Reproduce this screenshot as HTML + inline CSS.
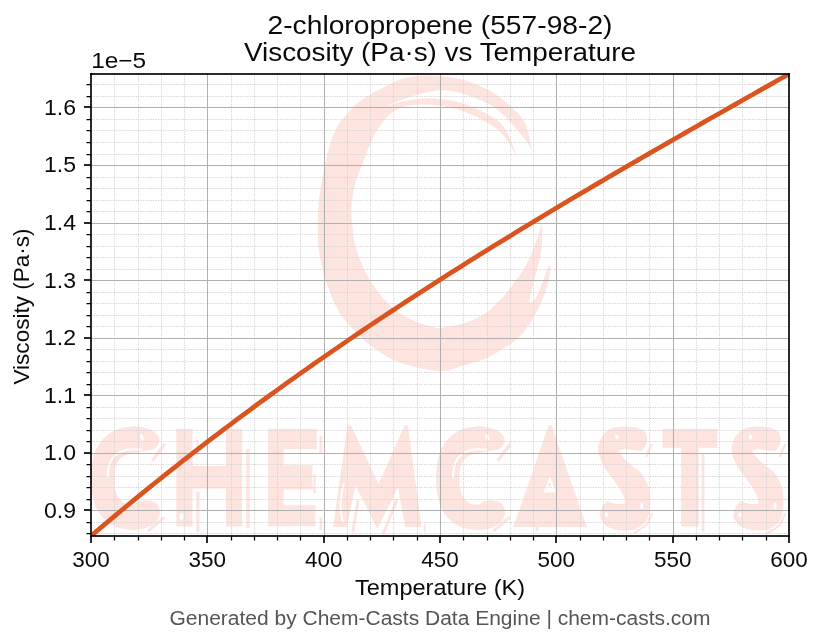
<!DOCTYPE html><html><head><meta charset="utf-8"><style>html,body{margin:0;padding:0;background:#fff;width:823px;height:644px;overflow:hidden}svg{display:block;will-change:transform}</style></head><body><svg width="823" height="644" viewBox="0 0 823 644"><rect width="823" height="644" fill="#ffffff"/><filter id="bl" x="-5%" y="-5%" width="110%" height="110%"><feGaussianBlur stdDeviation="0.6"/></filter><g id="wm" fill="#fde4df" filter="url(#bl)"><path d="M532 150C530.8 145.5 528.7 130.3 525.0 123.0C521.3 115.7 515.8 111.3 510.0 106.0C504.2 100.7 498.3 95.5 490.0 91.0C481.7 86.5 470.0 81.6 460.0 79.0C450.0 76.4 439.2 75.6 430.0 75.4C420.8 75.2 412.0 76.4 405.0 78.0C398.0 79.6 394.2 82.0 388.0 85.0C381.8 88.0 373.8 92.2 368.0 96.0C362.2 99.8 358.5 101.7 353.0 107.5C347.5 113.3 339.7 121.4 335.0 131.0C330.3 140.6 327.8 152.7 325.0 165.0C322.2 177.3 319.7 192.5 318.5 205.0C317.3 217.5 317.6 230.5 318.0 240.0C318.4 249.5 319.7 255.3 321.0 262.0C322.3 268.7 323.7 273.7 325.7 280.0C327.7 286.3 329.8 293.3 333.0 300.0C336.2 306.7 338.8 312.5 345.0 320.0C351.2 327.5 360.8 337.9 370.0 345.0C379.2 352.1 388.3 358.3 400.0 362.6C411.7 366.9 429.5 370.5 440.0 371.0C450.5 371.5 455.3 367.5 463.0 365.4C470.7 363.3 478.2 361.9 486.0 358.4C493.8 354.9 503.5 348.9 509.8 344.5C516.1 340.1 519.6 336.8 523.8 331.9C528.0 327.0 531.6 321.3 535.0 315.1C538.4 308.9 542.0 301.2 544.4 294.8C546.8 288.4 548.5 281.7 549.5 276.6C550.5 271.6 550.3 266.5 550.5 264.5C550.0 265.2 548.8 265.5 547.4 268.5C546.0 271.5 544.4 277.6 542.4 282.7C540.4 287.8 537.5 295.2 535.3 298.8C533.1 302.4 530.0 303.1 529.0 304.0C529.5 301.1 530.9 292.6 532.3 286.7C533.7 280.8 535.8 274.6 537.3 268.5C538.8 262.4 540.5 256.8 541.4 250.4C542.2 244.0 542.4 234.8 542.4 230.2C542.4 225.6 541.6 224.3 541.4 223.1C540.9 224.9 540.2 228.6 538.4 234.2C536.5 239.8 533.3 249.7 530.3 256.4C527.3 263.1 523.9 268.9 520.2 274.6C516.5 280.3 510.9 287.0 508.0 290.7C505.1 294.4 506.5 293.3 502.8 297.0C499.1 300.7 492.6 308.6 486.0 313.0C479.4 317.4 470.7 321.1 463.0 323.5C455.3 325.9 445.0 327.1 440.0 327.7C435.0 328.3 436.9 327.9 433.2 327.0C429.5 326.1 422.8 324.4 417.6 322.3C412.4 320.2 407.3 317.9 402.1 314.5C396.9 311.1 391.2 306.8 386.6 302.1C382.0 297.5 377.8 291.8 374.2 286.6C370.6 281.4 367.4 276.2 364.8 271.0C362.2 265.8 360.4 260.7 358.6 255.5C356.8 250.3 355.1 245.6 354.0 240.0C352.9 234.4 352.4 227.8 352.0 222.0C351.6 216.2 351.2 211.2 351.7 205.0C352.2 198.8 353.3 191.7 355.0 185.0C356.7 178.3 358.4 174.0 362.0 165.0C365.6 156.0 371.0 140.2 376.7 131.0C382.4 121.8 387.9 114.4 396.0 110.0C404.1 105.6 414.3 104.5 425.0 104.5C435.7 104.5 449.2 106.9 460.0 110.2C470.8 113.5 482.5 119.8 490.0 124.3C497.5 128.8 500.5 132.0 505.0 137.4C509.5 142.8 515.0 153.7 517.0 157.0C515.0 152.3 509.5 135.6 505.0 128.7C500.5 121.8 497.5 120.0 490.0 115.7C482.5 111.4 470.0 105.5 460.0 102.6C450.0 99.7 439.2 98.6 430.0 98.3C420.8 98.0 412.2 99.7 405.0 101.0C397.8 102.3 389.6 105.2 386.5 106.0C392.1 104.0 409.4 96.5 420.0 94.0C430.6 91.5 438.3 89.0 450.0 90.8C461.7 92.6 480.0 99.6 490.0 104.8C500.0 110.0 504.2 116.2 510.0 122.0C515.8 127.8 521.3 134.9 525.0 139.6C528.7 144.3 530.8 148.3 532.0 150.0Z"/><path d="M491.5 450.6C492.8 450.3 496.9 450.3 499.0 449.0C501.1 447.7 503.2 445.2 504.0 443.0C504.8 440.8 504.7 438.1 503.5 436.0C502.3 433.9 499.8 432.0 497.0 430.5C494.2 429.0 490.4 427.7 487.0 427.0C483.6 426.3 480.8 426.0 476.6 426.4C472.4 426.8 466.6 427.6 462.0 429.5C457.4 431.4 452.7 434.2 449.0 438.0C445.3 441.8 442.1 446.7 440.0 452.0C437.9 457.3 437.1 464.0 436.5 470.0C435.9 476.0 435.9 482.2 436.5 488.0C437.1 493.8 438.1 500.0 440.0 505.0C441.9 510.0 444.5 514.3 448.0 518.0C451.5 521.7 456.2 525.0 461.0 527.0C465.8 529.0 471.6 529.6 476.6 529.8C481.6 530.0 486.9 529.3 491.0 528.0C495.1 526.7 498.7 524.5 501.0 522.0C503.3 519.5 504.8 516.0 505.0 513.0C505.2 510.0 503.8 506.1 502.0 504.0C500.2 501.9 496.8 501.0 494.0 500.5C491.2 500.0 487.5 500.3 485.0 501.0C482.5 501.7 480.0 504.0 479.0 504.6C477.5 504.4 472.6 504.8 470.0 503.5C467.4 502.2 465.2 499.4 463.5 497.0C461.8 494.6 460.7 491.8 460.0 489.0C459.3 486.2 459.5 483.3 459.5 480.0C459.5 476.7 459.2 472.3 460.0 469.0C460.8 465.7 462.2 462.3 464.0 460.0C465.8 457.7 468.3 456.2 471.0 455.0C473.7 453.8 476.6 453.7 480.0 453.0C483.4 452.3 489.6 451.0 491.5 450.6Z"/><path transform="translate(-345 0)" d="M491.5 450.6C492.8 450.3 496.9 450.3 499.0 449.0C501.1 447.7 503.2 445.2 504.0 443.0C504.8 440.8 504.7 438.1 503.5 436.0C502.3 433.9 499.8 432.0 497.0 430.5C494.2 429.0 490.4 427.7 487.0 427.0C483.6 426.3 480.8 426.0 476.6 426.4C472.4 426.8 466.6 427.6 462.0 429.5C457.4 431.4 452.7 434.2 449.0 438.0C445.3 441.8 442.1 446.7 440.0 452.0C437.9 457.3 437.1 464.0 436.5 470.0C435.9 476.0 435.9 482.2 436.5 488.0C437.1 493.8 438.1 500.0 440.0 505.0C441.9 510.0 444.5 514.3 448.0 518.0C451.5 521.7 456.2 525.0 461.0 527.0C465.8 529.0 471.6 529.6 476.6 529.8C481.6 530.0 486.9 529.3 491.0 528.0C495.1 526.7 498.7 524.5 501.0 522.0C503.3 519.5 504.8 516.0 505.0 513.0C505.2 510.0 503.8 506.1 502.0 504.0C500.2 501.9 496.8 501.0 494.0 500.5C491.2 500.0 487.5 500.3 485.0 501.0C482.5 501.7 480.0 504.0 479.0 504.6C477.5 504.4 472.6 504.8 470.0 503.5C467.4 502.2 465.2 499.4 463.5 497.0C461.8 494.6 460.7 491.8 460.0 489.0C459.3 486.2 459.5 483.3 459.5 480.0C459.5 476.7 459.2 472.3 460.0 469.0C460.8 465.7 462.2 462.3 464.0 460.0C465.8 457.7 468.3 456.2 471.0 455.0C473.7 453.8 476.6 453.7 480.0 453.0C483.4 452.3 489.6 451.0 491.5 450.6Z"/><path d="M176.3 428.7L192.5 428.7L192.5 466L225.9 466L225.9 428.7L242.1 428.7L242.1 526.4L225.9 526.4L225.9 488.5L192.5 488.5L192.5 526.4L176.3 526.4Z"/><path d="M268.1 428.7L316.8 428.7L316.8 449L283.7 449L283.7 465.2L312.4 465.2L312.4 489.6L283.7 489.6L283.7 505.2L315.5 505.2L315.5 526.3L268.1 526.3Z"/><path d="M333 527L347.5 425.5L351 425.5L378.6 484L404.5 425.5L408 425.5L421.5 527L405 527L398 487L377.4 529L355.5 485L347 527Z"/><path fill-rule="evenodd" d="M513.4 527L548.5 425.5L551.5 425.5L587 527ZM550 476.7L543.2 492.5L556.2 492.5Z"/><path d="M641.7 450.8C642.4 449.8 645.1 447.0 646.0 445.0C646.9 443.0 647.4 441.1 647.2 438.9C647.0 436.7 646.5 433.8 645.0 432.0C643.5 430.2 640.5 428.9 638.0 428.0C635.5 427.1 632.7 427.1 630.0 426.8C627.3 426.6 624.6 426.3 621.8 426.5C619.0 426.7 615.5 427.3 613.0 428.0C610.5 428.7 608.9 429.2 606.9 430.9C604.9 432.6 602.5 434.9 601.0 438.0C599.5 441.1 598.0 446.1 598.0 449.8C598.0 453.6 599.6 457.1 601.0 460.5C602.4 463.9 604.2 466.9 606.5 470.5C608.8 474.1 612.2 478.0 615.0 482.0C617.8 486.0 621.3 490.9 623.0 494.5C624.7 498.1 624.7 502.0 625.0 503.5C623.7 503.6 619.9 504.4 617.0 504.0C614.1 503.6 609.1 501.7 607.5 501.2C606.6 502.2 603.2 504.4 602.0 507.0C600.8 509.6 599.8 514.2 600.0 516.7C600.2 519.2 602.0 520.5 603.0 522.0C604.0 523.5 604.3 524.5 606.0 525.7C607.7 526.9 610.4 528.2 613.0 529.0C615.6 529.8 619.0 530.4 621.8 530.6C624.6 530.8 627.5 530.3 630.0 530.0C632.5 529.7 634.1 530.1 636.7 528.7C639.3 527.3 643.6 524.5 645.7 521.7C647.8 518.9 648.5 515.9 649.2 511.8C649.9 507.7 650.0 501.4 649.7 496.9C649.5 492.4 649.2 489.0 647.7 485.0C646.2 481.0 643.5 476.1 641.0 473.0C638.5 469.9 635.9 469.0 633.0 466.5C630.1 464.0 625.9 460.7 623.5 458.0C621.1 455.3 619.3 451.8 618.5 450.5C619.7 450.2 623.2 449.1 625.5 449.0C627.8 448.9 629.8 449.9 632.5 450.2C635.2 450.5 640.2 450.7 641.7 450.8Z"/><path transform="translate(133.5 0)" d="M641.7 450.8C642.4 449.8 645.1 447.0 646.0 445.0C646.9 443.0 647.4 441.1 647.2 438.9C647.0 436.7 646.5 433.8 645.0 432.0C643.5 430.2 640.5 428.9 638.0 428.0C635.5 427.1 632.7 427.1 630.0 426.8C627.3 426.6 624.6 426.3 621.8 426.5C619.0 426.7 615.5 427.3 613.0 428.0C610.5 428.7 608.9 429.2 606.9 430.9C604.9 432.6 602.5 434.9 601.0 438.0C599.5 441.1 598.0 446.1 598.0 449.8C598.0 453.6 599.6 457.1 601.0 460.5C602.4 463.9 604.2 466.9 606.5 470.5C608.8 474.1 612.2 478.0 615.0 482.0C617.8 486.0 621.3 490.9 623.0 494.5C624.7 498.1 624.7 502.0 625.0 503.5C623.7 503.6 619.9 504.4 617.0 504.0C614.1 503.6 609.1 501.7 607.5 501.2C606.6 502.2 603.2 504.4 602.0 507.0C600.8 509.6 599.8 514.2 600.0 516.7C600.2 519.2 602.0 520.5 603.0 522.0C604.0 523.5 604.3 524.5 606.0 525.7C607.7 526.9 610.4 528.2 613.0 529.0C615.6 529.8 619.0 530.4 621.8 530.6C624.6 530.8 627.5 530.3 630.0 530.0C632.5 529.7 634.1 530.1 636.7 528.7C639.3 527.3 643.6 524.5 645.7 521.7C647.8 518.9 648.5 515.9 649.2 511.8C649.9 507.7 650.0 501.4 649.7 496.9C649.5 492.4 649.2 489.0 647.7 485.0C646.2 481.0 643.5 476.1 641.0 473.0C638.5 469.9 635.9 469.0 633.0 466.5C630.1 464.0 625.9 460.7 623.5 458.0C621.1 455.3 619.3 451.8 618.5 450.5C619.7 450.2 623.2 449.1 625.5 449.0C627.8 448.9 629.8 449.9 632.5 450.2C635.2 450.5 640.2 450.7 641.7 450.8Z"/><path d="M662.5 428.7L717.4 428.7L717.4 447.8L698.8 447.8L698.8 526.4L681.1 526.4L681.1 447.8L662.5 447.8Z"/><path d="M487 449.6C484.5 449.6 476.3 448.9 472.0 449.8C467.7 450.7 463.8 452.7 461.0 455.0C458.2 457.3 456.3 459.8 455.0 463.5C453.7 467.2 453.3 474.8 453.0 477.0" fill="none" stroke="#fff" stroke-width="2.0" stroke-linecap="round"/><ellipse cx="487.4" cy="437.4" rx="1.8" ry="3.3" transform="rotate(-15 487.4 437.4)" fill="#fff"/><path d="M498.6 459.8L509.8 444.8" fill="none" stroke="#fde4df" stroke-width="3.4" stroke-linecap="round"/><path d="M494.5 530.4L508.8 518.2" fill="none" stroke="#fde4df" stroke-width="3.0" stroke-linecap="round"/><g transform="translate(-345.5 0)"><path d="M487 449.6C484.5 449.6 476.3 448.9 472.0 449.8C467.7 450.7 463.8 452.7 461.0 455.0C458.2 457.3 456.3 459.8 455.0 463.5C453.7 467.2 453.3 474.8 453.0 477.0" fill="none" stroke="#fff" stroke-width="2.0" stroke-linecap="round"/><ellipse cx="487.4" cy="437.4" rx="1.8" ry="3.3" transform="rotate(-15 487.4 437.4)" fill="#fff"/><path d="M498.6 459.8L509.8 444.8" fill="none" stroke="#fde4df" stroke-width="3.4" stroke-linecap="round"/><path d="M494.5 530.4L508.8 518.2" fill="none" stroke="#fde4df" stroke-width="3.0" stroke-linecap="round"/></g><rect x="196.3" y="491.6" width="3.2" height="40" fill="#fde4df"/><rect x="246.3" y="448.7" width="3.4" height="79.3" fill="#fde4df"/><rect x="196.5" y="440" width="2.2" height="15" fill="#fde4df"/><ellipse cx="181.5" cy="516.5" rx="2" ry="3.5" fill="#fff"/><rect x="319.5" y="435.7" width="2.8" height="17.7" fill="#fde4df"/><rect x="313.3" y="474" width="2.4" height="19" fill="#fde4df"/><rect x="319.5" y="517" width="2.6" height="13" fill="#fde4df"/><path d="M358 501.6L353 530.8" fill="none" stroke="#fde4df" stroke-width="3.0" stroke-linecap="round"/><path d="M396.8 500.4L383.5 533.2" fill="none" stroke="#fde4df" stroke-width="3.0" stroke-linecap="round"/><path d="M424.8 524.7L424.8 530.8" fill="none" stroke="#fde4df" stroke-width="2.0" stroke-linecap="round"/><path d="M343.5 484C343.0 487.3 340.7 497.8 340.5 504.0C340.3 510.2 342.2 518.2 342.5 521.0" fill="none" stroke="#fff" stroke-width="2.0" stroke-linecap="round"/><path d="M540.4 518.6L536.7 529.8" fill="none" stroke="#fde4df" stroke-width="3.0" stroke-linecap="round"/><ellipse cx="549.5" cy="484.5" rx="1.6" ry="1.6" fill="#fde4df"/><rect x="701.6" y="453.4" width="2.8" height="78.3" fill="#fde4df"/><ellipse cx="617" cy="437" rx="1.8" ry="2.4" fill="#fff"/><ellipse cx="641.7" cy="505.8" rx="1.5" ry="3.2" fill="#fff"/><ellipse cx="606.4" cy="514.7" rx="1.6" ry="2.4" fill="#fff"/><path d="M646.5 456L651.5 445" fill="none" stroke="#fde4df" stroke-width="2.6" stroke-linecap="round"/><path d="M651.6 513.8C650.7 515.7 648.8 521.9 646.0 525.0C643.2 528.1 636.6 531.3 634.7 532.6" fill="none" stroke="#fde4df" stroke-width="2.2" stroke-linecap="round"/><g transform="translate(133.5 0)"><ellipse cx="617" cy="437" rx="1.8" ry="2.4" fill="#fff"/><ellipse cx="641.7" cy="505.8" rx="1.5" ry="3.2" fill="#fff"/><ellipse cx="606.4" cy="514.7" rx="1.6" ry="2.4" fill="#fff"/><path d="M646.5 456L651.5 445" fill="none" stroke="#fde4df" stroke-width="2.6" stroke-linecap="round"/><path d="M651.6 513.8C650.7 515.7 648.8 521.9 646.0 525.0C643.2 528.1 636.6 531.3 634.7 532.6" fill="none" stroke="#fde4df" stroke-width="2.2" stroke-linecap="round"/></g></g><path d="M114.5 74V536M138.5 74V536M161.5 74V536M184.5 74V536M231.5 74V536M254.5 74V536M277.5 74V536M300.5 74V536M347.5 74V536M370.5 74V536M393.5 74V536M417.5 74V536M463.5 74V536M487.5 74V536M510.5 74V536M533.5 74V536M580.5 74V536M603.5 74V536M626.5 74V536M649.5 74V536M696.5 74V536M719.5 74V536M742.5 74V536M766.5 74V536M91 533.5H789M91 522.5H789M91 499.5H789M91 487.5H789M91 476.5H789M91 464.5H789M91 441.5H789M91 430.5H789M91 418.5H789M91 407.5H789M91 384.5H789M91 372.5H789M91 361.5H789M91 349.5H789M91 326.5H789M91 315.5H789M91 303.5H789M91 292.5H789M91 269.5H789M91 257.5H789M91 246.5H789M91 234.5H789M91 211.5H789M91 200.5H789M91 188.5H789M91 177.5H789M91 154.5H789M91 142.5H789M91 130.5H789M91 119.5H789M91 96.5H789M91 84.5H789" stroke="#d2d2d2" stroke-width="0.94" stroke-dasharray="1.3 1.0 1.3 1.37" fill="none"/><path d="M207.5 74V536M324.5 74V536M440.5 74V536M556.5 74V536M673.5 74V536M91 510.5H789M91 453.5H789M91 395.5H789M91 338.5H789M91 280.5H789M91 223.5H789M91 165.5H789M91 107.5H789" stroke="#b0b0b0" stroke-width="1.04" fill="none"/><clipPath id="ax"><rect x="91" y="74" width="698" height="462"/></clipPath><polyline clip-path="url(#ax)" points="91.00,536.00 96.82,531.05 102.63,526.12 108.45,521.23 114.27,516.36 120.08,511.51 125.90,506.70 131.72,501.91 137.53,497.14 143.35,492.41 149.17,487.69 154.98,483.01 160.80,478.34 166.62,473.71 172.43,469.10 178.25,464.51 184.07,459.94 189.88,455.41 195.70,450.89 201.52,446.40 207.33,441.93 213.15,437.48 218.97,433.06 224.78,428.66 230.60,424.29 236.42,419.93 242.23,415.60 248.05,411.29 253.87,407.00 259.68,402.73 265.50,398.48 271.32,394.25 277.13,390.05 282.95,385.86 288.77,381.70 294.58,377.55 300.40,373.43 306.22,369.32 312.03,365.23 317.85,361.17 323.67,357.12 329.48,353.09 335.30,349.08 341.12,345.08 346.93,341.11 352.75,337.15 358.57,333.21 364.38,329.28 370.20,325.38 376.02,321.49 381.83,317.61 387.65,313.76 393.47,309.92 399.28,306.09 405.10,302.28 410.92,298.49 416.73,294.71 422.55,290.95 428.37,287.20 434.18,283.46 440.00,279.74 445.82,276.04 451.63,272.34 457.45,268.66 463.27,265.00 469.08,261.35 474.90,257.71 480.72,254.08 486.53,250.46 492.35,246.86 498.17,243.27 503.98,239.69 509.80,236.13 515.62,232.57 521.43,229.03 527.25,225.49 533.07,221.97 538.88,218.46 544.70,214.95 550.52,211.46 556.33,207.98 562.15,204.50 567.97,201.04 573.78,197.58 579.60,194.14 585.42,190.70 591.23,187.27 597.05,183.85 602.87,180.44 608.68,177.03 614.50,173.63 620.32,170.24 626.13,166.86 631.95,163.48 637.77,160.11 643.58,156.74 649.40,153.38 655.22,150.03 661.03,146.68 666.85,143.34 672.67,140.01 678.48,136.67 684.30,133.35 690.12,130.02 695.93,126.70 701.75,123.39 707.57,120.08 713.38,116.77 719.20,113.47 725.02,110.17 730.83,106.87 736.65,103.58 742.47,100.28 748.28,96.99 754.10,93.70 759.92,90.42 765.73,87.13 771.55,83.85 777.37,80.56 783.18,77.28 789.00,74.00" fill="none" stroke="#d9541e" stroke-width="4.7" stroke-linejoin="round" stroke-linecap="butt"/><rect x="90" y="73" width="2" height="464" fill="#000" fill-opacity="0.835"/><rect x="788" y="73" width="2" height="464" fill="#000" fill-opacity="0.835"/><rect x="90" y="73" width="700" height="2" fill="#000" fill-opacity="0.835"/><rect x="90" y="535" width="700" height="2" fill="#000" fill-opacity="0.835"/><rect x="90" y="536" width="2" height="7" fill="#000" fill-opacity="0.835"/><rect x="206" y="536" width="2" height="7" fill="#000" fill-opacity="0.835"/><rect x="323" y="536" width="2" height="7" fill="#000" fill-opacity="0.835"/><rect x="439" y="536" width="2" height="7" fill="#000" fill-opacity="0.835"/><rect x="555" y="536" width="2" height="7" fill="#000" fill-opacity="0.835"/><rect x="672" y="536" width="2" height="7" fill="#000" fill-opacity="0.835"/><rect x="788" y="536" width="2" height="7" fill="#000" fill-opacity="0.835"/><rect x="84" y="509" width="7" height="2" fill="#000" fill-opacity="0.835"/><rect x="84" y="452" width="7" height="2" fill="#000" fill-opacity="0.835"/><rect x="84" y="394" width="7" height="2" fill="#000" fill-opacity="0.835"/><rect x="84" y="337" width="7" height="2" fill="#000" fill-opacity="0.835"/><rect x="84" y="279" width="7" height="2" fill="#000" fill-opacity="0.835"/><rect x="84" y="222" width="7" height="2" fill="#000" fill-opacity="0.835"/><rect x="84" y="164" width="7" height="2" fill="#000" fill-opacity="0.835"/><rect x="84" y="106" width="7" height="2" fill="#000" fill-opacity="0.835"/><path d="M114.5 536V540.5M138.5 536V540.5M161.5 536V540.5M184.5 536V540.5M231.5 536V540.5M254.5 536V540.5M277.5 536V540.5M300.5 536V540.5M347.5 536V540.5M370.5 536V540.5M393.5 536V540.5M417.5 536V540.5M463.5 536V540.5M487.5 536V540.5M510.5 536V540.5M533.5 536V540.5M580.5 536V540.5M603.5 536V540.5M626.5 536V540.5M649.5 536V540.5M696.5 536V540.5M719.5 536V540.5M742.5 536V540.5M766.5 536V540.5M91 533.5H86.5M91 522.5H86.5M91 499.5H86.5M91 487.5H86.5M91 476.5H86.5M91 464.5H86.5M91 441.5H86.5M91 430.5H86.5M91 418.5H86.5M91 407.5H86.5M91 384.5H86.5M91 372.5H86.5M91 361.5H86.5M91 349.5H86.5M91 326.5H86.5M91 315.5H86.5M91 303.5H86.5M91 292.5H86.5M91 269.5H86.5M91 257.5H86.5M91 246.5H86.5M91 234.5H86.5M91 211.5H86.5M91 200.5H86.5M91 188.5H86.5M91 177.5H86.5M91 154.5H86.5M91 142.5H86.5M91 130.5H86.5M91 119.5H86.5M91 96.5H86.5M91 84.5H86.5" stroke="#000" stroke-width="1.25" fill="none"/><text x="440" y="34.0" font-size="26.2" font-family="Liberation Sans, sans-serif" text-anchor="middle" textLength="345" lengthAdjust="spacingAndGlyphs" fill="#0a0a0a" >2-chloropropene (557-98-2)</text><text x="440" y="61.3" font-size="26.2" font-family="Liberation Sans, sans-serif" text-anchor="middle" textLength="392" lengthAdjust="spacingAndGlyphs" fill="#0a0a0a" >Viscosity (Pa·s) vs Temperature</text><text x="91.0" y="567.0" font-size="22.3" font-family="Liberation Sans, sans-serif" text-anchor="middle" textLength="37.5" lengthAdjust="spacingAndGlyphs" fill="#0a0a0a" >300</text><text x="207.33" y="567.0" font-size="22.3" font-family="Liberation Sans, sans-serif" text-anchor="middle" textLength="37.5" lengthAdjust="spacingAndGlyphs" fill="#0a0a0a" >350</text><text x="323.67" y="567.0" font-size="22.3" font-family="Liberation Sans, sans-serif" text-anchor="middle" textLength="37.5" lengthAdjust="spacingAndGlyphs" fill="#0a0a0a" >400</text><text x="440.0" y="567.0" font-size="22.3" font-family="Liberation Sans, sans-serif" text-anchor="middle" textLength="37.5" lengthAdjust="spacingAndGlyphs" fill="#0a0a0a" >450</text><text x="556.33" y="567.0" font-size="22.3" font-family="Liberation Sans, sans-serif" text-anchor="middle" textLength="37.5" lengthAdjust="spacingAndGlyphs" fill="#0a0a0a" >500</text><text x="672.67" y="567.0" font-size="22.3" font-family="Liberation Sans, sans-serif" text-anchor="middle" textLength="37.5" lengthAdjust="spacingAndGlyphs" fill="#0a0a0a" >550</text><text x="789.0" y="567.0" font-size="22.3" font-family="Liberation Sans, sans-serif" text-anchor="middle" textLength="37.5" lengthAdjust="spacingAndGlyphs" fill="#0a0a0a" >600</text><text x="76.0" y="517.72" font-size="22.3" font-family="Liberation Sans, sans-serif" text-anchor="end" textLength="32" lengthAdjust="spacingAndGlyphs" fill="#0a0a0a" >0.9</text><text x="76.0" y="460.16" font-size="22.3" font-family="Liberation Sans, sans-serif" text-anchor="end" textLength="32" lengthAdjust="spacingAndGlyphs" fill="#0a0a0a" >1.0</text><text x="76.0" y="402.61" font-size="22.3" font-family="Liberation Sans, sans-serif" text-anchor="end" textLength="32" lengthAdjust="spacingAndGlyphs" fill="#0a0a0a" >1.1</text><text x="76.0" y="345.05" font-size="22.3" font-family="Liberation Sans, sans-serif" text-anchor="end" textLength="32" lengthAdjust="spacingAndGlyphs" fill="#0a0a0a" >1.2</text><text x="76.0" y="287.5" font-size="22.3" font-family="Liberation Sans, sans-serif" text-anchor="end" textLength="32" lengthAdjust="spacingAndGlyphs" fill="#0a0a0a" >1.3</text><text x="76.0" y="229.94" font-size="22.3" font-family="Liberation Sans, sans-serif" text-anchor="end" textLength="32" lengthAdjust="spacingAndGlyphs" fill="#0a0a0a" >1.4</text><text x="76.0" y="172.39" font-size="22.3" font-family="Liberation Sans, sans-serif" text-anchor="end" textLength="32" lengthAdjust="spacingAndGlyphs" fill="#0a0a0a" >1.5</text><text x="76.0" y="114.83" font-size="22.3" font-family="Liberation Sans, sans-serif" text-anchor="end" textLength="32" lengthAdjust="spacingAndGlyphs" fill="#0a0a0a" >1.6</text><text x="91.2" y="68.0" font-size="22.3" font-family="Liberation Sans, sans-serif" text-anchor="start" textLength="55" lengthAdjust="spacingAndGlyphs" fill="#0a0a0a" >1e−5</text><text x="440" y="595.0" font-size="22.3" font-family="Liberation Sans, sans-serif" text-anchor="middle" textLength="170" lengthAdjust="spacingAndGlyphs" fill="#0a0a0a" >Temperature (K)</text><g transform="translate(29.2,306.5) rotate(-90)"><text x="0" y="0" font-size="22.3" font-family="Liberation Sans, sans-serif" text-anchor="middle" textLength="156" lengthAdjust="spacingAndGlyphs" fill="#0a0a0a" >Viscosity (Pa·s)</text></g><text x="440" y="624.5" font-size="19.6" font-family="Liberation Sans, sans-serif" text-anchor="middle" textLength="541" lengthAdjust="spacingAndGlyphs" fill="#555555" >Generated by Chem-Casts Data Engine | chem-casts.com</text></svg></body></html>
